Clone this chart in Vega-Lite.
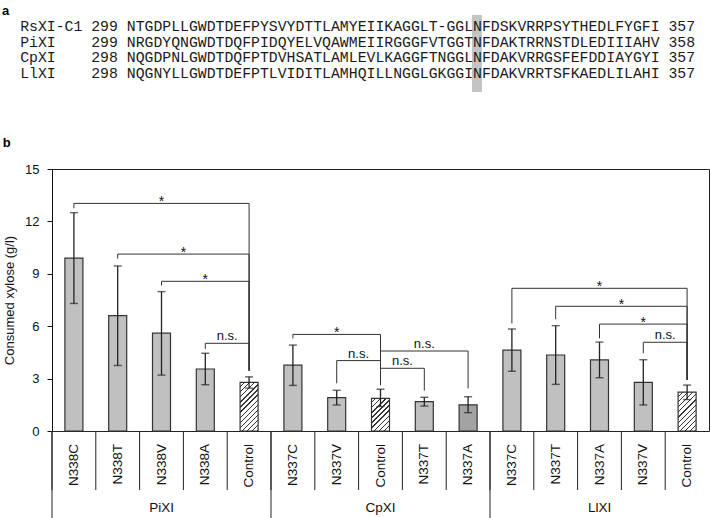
{
  "$schema": "https://vega.github.io/schema/vega-lite/v6.json",
  "autosize": {"type": "none"},
  "padding": {"left": 52, "top": 169, "right": 1, "bottom": 87},
  "width": 657,
  "height": 262,
  "background": "white",
  "config": {
    "font": "Liberation Sans",
    "view": {"stroke": "#222", "strokeWidth": 1},
    "axisX": {"disable": true}
  },
  "datasets": {
    "bars": [
      {"group": "PiXI", "mutant": "N338C", "idx": 0, "mean": 9.9, "lo": 7.3, "hi": 12.5},
      {"group": "PiXI", "mutant": "N338T", "idx": 1, "mean": 6.6, "lo": 3.75, "hi": 9.45},
      {"group": "PiXI", "mutant": "N338V", "idx": 2, "mean": 5.6, "lo": 3.2, "hi": 7.98},
      {"group": "PiXI", "mutant": "N338A", "idx": 3, "mean": 3.55, "lo": 2.65, "hi": 4.45},
      {"group": "PiXI", "mutant": "Control", "idx": 4, "mean": 2.78, "lo": 2.45, "hi": 3.1},
      {"group": "CpXI", "mutant": "N337C", "idx": 5, "mean": 3.77, "lo": 2.61, "hi": 4.92},
      {"group": "CpXI", "mutant": "N337V", "idx": 6, "mean": 1.91, "lo": 1.49, "hi": 2.33},
      {"group": "CpXI", "mutant": "Control", "idx": 7, "mean": 1.87, "lo": 1.4, "hi": 2.39},
      {"group": "CpXI", "mutant": "N337T", "idx": 8, "mean": 1.68, "lo": 1.43, "hi": 1.93},
      {"group": "CpXI", "mutant": "N337A", "idx": 9, "mean": 1.5, "lo": 1.05, "hi": 1.96},
      {"group": "LlXI", "mutant": "N337C", "idx": 10, "mean": 4.63, "lo": 3.42, "hi": 5.84},
      {"group": "LlXI", "mutant": "N337T", "idx": 11, "mean": 4.35, "lo": 2.67, "hi": 6.03},
      {"group": "LlXI", "mutant": "N337A", "idx": 12, "mean": 4.07, "lo": 3.05, "hi": 5.09},
      {"group": "LlXI", "mutant": "N337V", "idx": 13, "mean": 2.78, "lo": 1.49, "hi": 4.08},
      {"group": "LlXI", "mutant": "Control", "idx": 14, "mean": 2.22, "lo": 1.8, "hi": 2.63}
    ],
    "brackets": [
      {"group": "PiXI", "from": 0, "to": 4, "y": 13.03, "legM": 12.75, "legC": 3.45, "label": "*"},
      {"group": "PiXI", "from": 1, "to": 4, "y": 10.13, "legM": 9.87, "legC": 3.45, "label": "*"},
      {"group": "PiXI", "from": 2, "to": 4, "y": 8.57, "legM": 8.33, "legC": 3.45, "label": "*"},
      {"group": "PiXI", "from": 3, "to": 4, "y": 5.02, "legM": 4.7, "legC": 3.45, "label": "n.s."},
      {"group": "CpXI", "from": 5, "to": 7, "y": 5.53, "legM": 5.3, "legC": 2.63, "label": "*"},
      {"group": "CpXI", "from": 6, "to": 7, "y": 4.03, "legM": 2.73, "legC": 2.63, "label": "n.s."},
      {"group": "CpXI", "from": 8, "to": 7, "y": 3.59, "legM": 2.31, "legC": 2.63, "label": "n.s."},
      {"group": "CpXI", "from": 9, "to": 7, "y": 4.58, "legM": 2.44, "legC": 2.63, "label": "n.s."},
      {"group": "LlXI", "from": 10, "to": 14, "y": 8.17, "legM": 6.16, "legC": 2.92, "label": "*"},
      {"group": "LlXI", "from": 11, "to": 14, "y": 7.14, "legM": 6.4, "legC": 2.92, "label": "*"},
      {"group": "LlXI", "from": 12, "to": 14, "y": 6.12, "legM": 5.3, "legC": 2.92, "label": "*"},
      {"group": "LlXI", "from": 13, "to": 14, "y": 5.08, "legM": 4.45, "legC": 2.92, "label": "n.s."}
    ],
    "alignment": [
      {"lines": [
        "RsXI-C1\u00a0299\u00a0NTGDPLLGWDTDEFPYSVYDTTLAMYEIIKAGGLT-GGLNFDSKVRRPSYTHEDLFYGFI\u00a0357",
        "PiXI\u00a0\u00a0\u00a0\u00a0299\u00a0NRGDYQNGWDTDQFPIDQYELVQAWMEIIRGGGFVTGGTNFDAKTRRNSTDLEDIIIAHV\u00a0358",
        "CpXI\u00a0\u00a0\u00a0\u00a0298\u00a0NQGDPNLGWDTDQFPTDVHSATLAMLEVLKAGGFTNGGLNFDAKVRRGSFEFDDIAYGYI\u00a0357",
        "LlXI\u00a0\u00a0\u00a0\u00a0298\u00a0NQGNYLLGWDTDEFPTLVIDITLAMHQILLNGGLGKGGINFDAKVRRTSFKAEDLILAHI\u00a0357"
      ]}
    ]
  },
  "layer": [
    {
      "data": {"name": "bars"},
      "transform": [{"filter": "datum.mutant !== 'Control'"}],
      "mark": {"type": "bar", "size": 18, "stroke": "#333", "strokeWidth": 1.2},
      "encoding": {
        "x": {"field": "idx", "type": "quantitative", "scale": {"domain": [-0.5, 14.5], "nice": false, "zero": false, "padding": 0}, "axis": null},
        "y": {
          "field": "mean", "type": "quantitative",
          "scale": {"domain": [0, 15], "nice": false},
          "axis": {
            "title": "Consumed xylose (g/l)", "values": [0, 3, 6, 9, 12, 15], "grid": false,
            "tickSize": 5, "tickColor": "#111", "domainColor": "#111",
            "labelFont": "Liberation Sans", "labelFontSize": 13, "labelColor": "#111", "labelPadding": 8,
            "titleFont": "Liberation Sans", "titleFontSize": 13, "titleFontWeight": "normal", "titleColor": "#111", "titlePadding": 8
          }
        },
        "fill": {"condition": {"test": "datum.group === 'CpXI' && datum.mutant === 'N337A'", "value": "#a3a3a3"}, "value": "#c0c0c0"}
      }
    },
    {
      "data": {"name": "bars"},
      "transform": [{"filter": "datum.mutant === 'Control' && datum.group === 'PiXI'"}],
      "mark": {"type": "bar", "size": 18, "stroke": "#333", "strokeWidth": 1.2,
        "fill": {"gradient": "linear", "x1": 0, "y1": 0, "x2": 0.446, "y2": 1.205, "stops": [
          {"offset": 0, "color": "#fff"}, {"offset": 0.0577, "color": "#fff"}, {"offset": 0.0577, "color": "#333"}, {"offset": 0.0769, "color": "#333"},
          {"offset": 0.0769, "color": "#fff"}, {"offset": 0.1346, "color": "#fff"}, {"offset": 0.1346, "color": "#333"}, {"offset": 0.1538, "color": "#333"},
          {"offset": 0.1538, "color": "#fff"}, {"offset": 0.2115, "color": "#fff"}, {"offset": 0.2115, "color": "#333"}, {"offset": 0.2308, "color": "#333"},
          {"offset": 0.2308, "color": "#fff"}, {"offset": 0.2885, "color": "#fff"}, {"offset": 0.2885, "color": "#333"}, {"offset": 0.3077, "color": "#333"},
          {"offset": 0.3077, "color": "#fff"}, {"offset": 0.3654, "color": "#fff"}, {"offset": 0.3654, "color": "#333"}, {"offset": 0.3846, "color": "#333"},
          {"offset": 0.3846, "color": "#fff"}, {"offset": 0.4423, "color": "#fff"}, {"offset": 0.4423, "color": "#333"}, {"offset": 0.4615, "color": "#333"},
          {"offset": 0.4615, "color": "#fff"}, {"offset": 0.5192, "color": "#fff"}, {"offset": 0.5192, "color": "#333"}, {"offset": 0.5385, "color": "#333"},
          {"offset": 0.5385, "color": "#fff"}, {"offset": 0.5962, "color": "#fff"}, {"offset": 0.5962, "color": "#333"}, {"offset": 0.6154, "color": "#333"},
          {"offset": 0.6154, "color": "#fff"}, {"offset": 0.6731, "color": "#fff"}, {"offset": 0.6731, "color": "#333"}, {"offset": 0.6923, "color": "#333"},
          {"offset": 0.6923, "color": "#fff"}, {"offset": 0.75, "color": "#fff"}, {"offset": 0.75, "color": "#333"}, {"offset": 0.7692, "color": "#333"},
          {"offset": 0.7692, "color": "#fff"}, {"offset": 0.8269, "color": "#fff"}, {"offset": 0.8269, "color": "#333"}, {"offset": 0.8462, "color": "#333"},
          {"offset": 0.8462, "color": "#fff"}, {"offset": 0.9038, "color": "#fff"}, {"offset": 0.9038, "color": "#333"}, {"offset": 0.9231, "color": "#333"},
          {"offset": 0.9231, "color": "#fff"}, {"offset": 0.9808, "color": "#fff"}, {"offset": 0.9808, "color": "#333"}, {"offset": 1, "color": "#333"}
        ]}},
      "encoding": {
        "x": {"field": "idx", "type": "quantitative"},
        "y": {"field": "mean", "type": "quantitative"}
      }
    },
    {
      "data": {"name": "bars"},
      "transform": [{"filter": "datum.mutant === 'Control' && datum.group === 'CpXI'"}],
      "mark": {"type": "bar", "size": 18, "stroke": "#333", "strokeWidth": 1.2,
        "fill": {"gradient": "linear", "x1": 0, "y1": 0, "x2": 0.655, "y2": 1.19, "stops": [
          {"offset": 0, "color": "#fff"}, {"offset": 0.075, "color": "#fff"}, {"offset": 0.075, "color": "#333"}, {"offset": 0.1, "color": "#333"},
          {"offset": 0.1, "color": "#fff"}, {"offset": 0.175, "color": "#fff"}, {"offset": 0.175, "color": "#333"}, {"offset": 0.2, "color": "#333"},
          {"offset": 0.2, "color": "#fff"}, {"offset": 0.275, "color": "#fff"}, {"offset": 0.275, "color": "#333"}, {"offset": 0.3, "color": "#333"},
          {"offset": 0.3, "color": "#fff"}, {"offset": 0.375, "color": "#fff"}, {"offset": 0.375, "color": "#333"}, {"offset": 0.4, "color": "#333"},
          {"offset": 0.4, "color": "#fff"}, {"offset": 0.475, "color": "#fff"}, {"offset": 0.475, "color": "#333"}, {"offset": 0.5, "color": "#333"},
          {"offset": 0.5, "color": "#fff"}, {"offset": 0.575, "color": "#fff"}, {"offset": 0.575, "color": "#333"}, {"offset": 0.6, "color": "#333"},
          {"offset": 0.6, "color": "#fff"}, {"offset": 0.675, "color": "#fff"}, {"offset": 0.675, "color": "#333"}, {"offset": 0.7, "color": "#333"},
          {"offset": 0.7, "color": "#fff"}, {"offset": 0.775, "color": "#fff"}, {"offset": 0.775, "color": "#333"}, {"offset": 0.8, "color": "#333"},
          {"offset": 0.8, "color": "#fff"}, {"offset": 0.875, "color": "#fff"}, {"offset": 0.875, "color": "#333"}, {"offset": 0.9, "color": "#333"},
          {"offset": 0.9, "color": "#fff"}, {"offset": 0.975, "color": "#fff"}, {"offset": 0.975, "color": "#333"}, {"offset": 1, "color": "#333"}
        ]}},
      "encoding": {
        "x": {"field": "idx", "type": "quantitative"},
        "y": {"field": "mean", "type": "quantitative"}
      }
    },
    {
      "data": {"name": "bars"},
      "transform": [{"filter": "datum.mutant === 'Control' && datum.group === 'LlXI'"}],
      "mark": {"type": "bar", "size": 18, "stroke": "#333", "strokeWidth": 1.2,
        "fill": {"gradient": "linear", "x1": 0, "y1": 0, "x2": 0.559, "y2": 1.205, "stops": [
          {"offset": 0, "color": "#fff"}, {"offset": 0.0682, "color": "#fff"}, {"offset": 0.0682, "color": "#333"}, {"offset": 0.0909, "color": "#333"},
          {"offset": 0.0909, "color": "#fff"}, {"offset": 0.1591, "color": "#fff"}, {"offset": 0.1591, "color": "#333"}, {"offset": 0.1818, "color": "#333"},
          {"offset": 0.1818, "color": "#fff"}, {"offset": 0.25, "color": "#fff"}, {"offset": 0.25, "color": "#333"}, {"offset": 0.2727, "color": "#333"},
          {"offset": 0.2727, "color": "#fff"}, {"offset": 0.3409, "color": "#fff"}, {"offset": 0.3409, "color": "#333"}, {"offset": 0.3636, "color": "#333"},
          {"offset": 0.3636, "color": "#fff"}, {"offset": 0.4318, "color": "#fff"}, {"offset": 0.4318, "color": "#333"}, {"offset": 0.4545, "color": "#333"},
          {"offset": 0.4545, "color": "#fff"}, {"offset": 0.5227, "color": "#fff"}, {"offset": 0.5227, "color": "#333"}, {"offset": 0.5455, "color": "#333"},
          {"offset": 0.5455, "color": "#fff"}, {"offset": 0.6136, "color": "#fff"}, {"offset": 0.6136, "color": "#333"}, {"offset": 0.6364, "color": "#333"},
          {"offset": 0.6364, "color": "#fff"}, {"offset": 0.7045, "color": "#fff"}, {"offset": 0.7045, "color": "#333"}, {"offset": 0.7273, "color": "#333"},
          {"offset": 0.7273, "color": "#fff"}, {"offset": 0.7955, "color": "#fff"}, {"offset": 0.7955, "color": "#333"}, {"offset": 0.8182, "color": "#333"},
          {"offset": 0.8182, "color": "#fff"}, {"offset": 0.8864, "color": "#fff"}, {"offset": 0.8864, "color": "#333"}, {"offset": 0.9091, "color": "#333"},
          {"offset": 0.9091, "color": "#fff"}, {"offset": 0.9773, "color": "#fff"}, {"offset": 0.9773, "color": "#333"}, {"offset": 1, "color": "#333"}
        ]}},
      "encoding": {
        "x": {"field": "idx", "type": "quantitative"},
        "y": {"field": "mean", "type": "quantitative"}
      }
    },
    {
      "data": {"name": "bars"},
      "mark": {"type": "rule", "color": "#222", "strokeWidth": 1.3},
      "encoding": {
        "x": {"field": "idx", "type": "quantitative"},
        "y": {"field": "lo", "type": "quantitative"},
        "y2": {"field": "hi"}
      }
    },
    {
      "data": {"name": "bars"},
      "transform": [{"fold": ["lo", "hi"], "as": ["end", "val"]}],
      "mark": {"type": "tick", "orient": "horizontal", "size": 8, "thickness": 1.4, "color": "#222"},
      "encoding": {
        "x": {"field": "idx", "type": "quantitative"},
        "y": {"field": "val", "type": "quantitative"}
      }
    },
    {
      "data": {"name": "brackets"},
      "mark": {"type": "rule", "color": "#333", "strokeWidth": 1},
      "encoding": {
        "x": {"field": "from", "type": "quantitative"},
        "x2": {"field": "to"},
        "y": {"field": "y", "type": "quantitative"}
      }
    },
    {
      "data": {"name": "brackets"},
      "mark": {"type": "rule", "color": "#333", "strokeWidth": 1},
      "encoding": {
        "x": {"field": "from", "type": "quantitative"},
        "y": {"field": "y", "type": "quantitative"},
        "y2": {"field": "legM"}
      }
    },
    {
      "data": {"name": "brackets"},
      "mark": {"type": "rule", "color": "#333", "strokeWidth": 1},
      "encoding": {
        "x": {"field": "to", "type": "quantitative"},
        "y": {"field": "y", "type": "quantitative"},
        "y2": {"field": "legC"}
      }
    },
    {
      "data": {"name": "brackets"},
      "transform": [{"filter": "datum.label === '*'"}, {"calculate": "(datum.from + datum.to) / 2", "as": "mid"}],
      "mark": {"type": "text", "font": "Liberation Sans", "fontSize": 14, "align": "center", "baseline": "alphabetic", "dy": 3, "color": "#111"},
      "encoding": {
        "x": {"field": "mid", "type": "quantitative"},
        "y": {"field": "y", "type": "quantitative"},
        "text": {"field": "label"}
      }
    },
    {
      "data": {"name": "brackets"},
      "transform": [{"filter": "datum.label !== '*'"}, {"calculate": "(datum.from + datum.to) / 2", "as": "mid"}],
      "mark": {"type": "text", "font": "Liberation Sans", "fontSize": 13, "align": "center", "baseline": "alphabetic", "dy": -3, "color": "#111"},
      "encoding": {
        "x": {"field": "mid", "type": "quantitative"},
        "y": {"field": "y", "type": "quantitative"},
        "text": {"field": "label"}
      }
    },
    {
      "data": {"name": "bars"},
      "mark": {"type": "text", "font": "Liberation Sans", "fontSize": 13.5, "angle": 270, "align": "right", "baseline": "middle", "color": "#111"},
      "encoding": {
        "x": {"field": "idx", "type": "quantitative"},
        "y": {"datum": -0.74, "type": "quantitative"},
        "text": {"field": "mutant"}
      }
    },
    {
      "data": {"name": "bars"},
      "mark": {"type": "rule", "color": "#222", "strokeWidth": 1, "xOffset": -21.9},
      "encoding": {
        "x": {"field": "idx", "type": "quantitative"},
        "y": {"datum": 0, "type": "quantitative"},
        "y2": {"datum": -3.38}
      }
    },
    {
      "data": {"name": "bars"},
      "transform": [{"aggregate": [{"op": "min", "field": "idx", "as": "first"}], "groupby": ["group"]}],
      "mark": {"type": "rule", "color": "#222", "strokeWidth": 1, "xOffset": -21.9},
      "encoding": {
        "x": {"field": "first", "type": "quantitative"},
        "y": {"datum": 0, "type": "quantitative"},
        "y2": {"datum": -5.2}
      }
    },
    {
      "data": {"name": "bars"},
      "transform": [{"aggregate": [{"op": "mean", "field": "idx", "as": "center"}], "groupby": ["group"]}],
      "mark": {"type": "text", "font": "Liberation Sans", "fontSize": 13.5, "align": "center", "baseline": "middle", "color": "#111"},
      "encoding": {
        "x": {"field": "center", "type": "quantitative"},
        "y": {"datum": -4.39, "type": "quantitative"},
        "text": {"field": "group"}
      }
    },
    {
      "data": {"name": "alignment"},
      "mark": {"type": "rect", "color": "#c4c4c4"},
      "encoding": {
        "x": {"datum": 9.089, "type": "quantitative"},
        "x2": {"datum": 9.317},
        "y": {"datum": 23.82, "type": "quantitative"},
        "y2": {"datum": 19.41}
      }
    },
    {
      "data": {"name": "alignment"},
      "mark": {"type": "text", "font": "Liberation Mono", "fontSize": 14.8, "align": "left", "baseline": "alphabetic", "lineHeight": 15.75, "lineBreak": "\n", "color": "#1a1a1a"},
      "encoding": {
        "x": {"datum": -1.226, "type": "quantitative"},
        "y": {"datum": 22.906, "type": "quantitative"},
        "text": {"field": "lines"}
      }
    },
    {
      "data": {"values": [{"panel": "a"}]},
      "mark": {"type": "text", "font": "Liberation Sans", "fontSize": 13, "fontWeight": "bold", "align": "left", "baseline": "alphabetic", "color": "#000"},
      "encoding": {
        "x": {"datum": -1.641, "type": "quantitative"},
        "y": {"datum": 23.816, "type": "quantitative"},
        "text": {"field": "panel"}
      }
    },
    {
      "data": {"values": [{"panel": "b"}]},
      "mark": {"type": "text", "font": "Liberation Sans", "fontSize": 13, "fontWeight": "bold", "align": "left", "baseline": "alphabetic", "color": "#000"},
      "encoding": {
        "x": {"datum": -1.626, "type": "quantitative"},
        "y": {"datum": 16.24, "type": "quantitative"},
        "text": {"field": "panel"}
      }
    }
  ]
}
